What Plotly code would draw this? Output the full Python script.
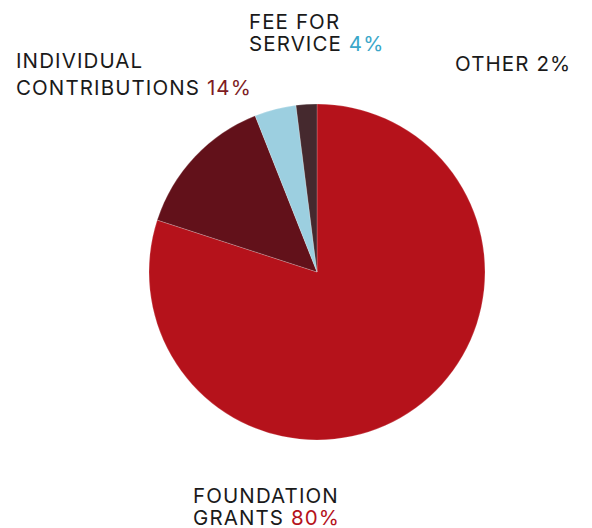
import plotly.graph_objects as go

categories = ["Foundation Grants", "Individual Contributions", "Fee for Service", "Other"]
values = [80, 14, 4, 2]
colors = ["#B5121B", "#62111A", "#9CCFE0", "#45292E"]

W, H = 592, 528
cx, cy, r = 317, 272, 168

fig = go.Figure(go.Pie(
    labels=categories, values=values, sort=False, direction="clockwise", rotation=0,
    marker=dict(colors=colors, line=dict(color="rgba(255,255,255,0.4)", width=0.5)),
    textinfo="none", hoverinfo="label+percent",
    domain=dict(x=[(cx - r) / W, (cx + r) / W], y=[(H - cy - r) / H, (H - cy + r) / H]),
))

FONT = "Inter"
LS = "letter-spacing:1.1px"


def ls(s):
    return f"<span style='{LS}'>{s}</span>"


label_lines = [
    (ls("FEE FOR"), 248, 9),
    (ls("SERVICE <span style='color:#3AA7C9'>4%</span>"), 248, 31),
    (ls("INDIVIDUAL"), 15, 48),
    (ls("CONTRIBUTIONS <span style='color:#7E1C24'>14%</span>"), 15, 75),
    (ls("OTHER 2%"), 454, 51),
    (ls("FOUNDATION"), 192, 483),
    (ls("GRANTS <span style='color:#B5121B'>80%</span>"), 192, 505),
]
anns = []
for text, x, y in label_lines:
    anns.append(dict(text=text, x=x / W, y=1 - y / H, xref="paper", yref="paper",
                     xanchor="left", yanchor="top", align="left", valign="middle",
                     height=22, borderpad=0, showarrow=False,
                     font=dict(family=FONT, size=20.5, color="#1a1a1a")))

fig.update_layout(width=W, height=H, margin=dict(l=0, r=0, t=0, b=0),
                  paper_bgcolor="white", plot_bgcolor="white", showlegend=False,
                  annotations=anns)
fig.write_html("out.html", config={"displayModeBar": False},
               post_script="document.body.style.margin='0';")
